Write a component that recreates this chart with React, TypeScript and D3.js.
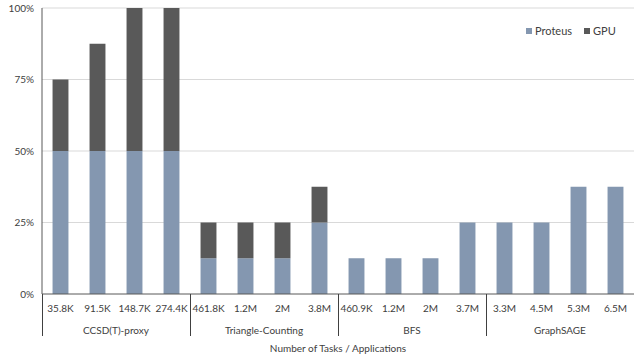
import React from "react";
import * as d3 from "d3";

const taskSizes = [
  "35.8K", "91.5K", "148.7K", "274.4K",
  "461.8K", "1.2M", "2M", "3.8M",
  "460.9K", "1.2M", "2M", "3.7M",
  "3.3M", "4.5M", "5.3M", "6.5M",
];
const applications = ["CCSD(T)-proxy", "Triangle-Counting", "BFS", "GraphSAGE"];
const tasksPerApp = 4;
const proteusShare = [
  0.5, 0.5, 0.5, 0.5,
  0.125, 0.125, 0.125, 0.25,
  0.125, 0.125, 0.125, 0.25,
  0.25, 0.25, 0.375, 0.375,
];
const gpuShare = [
  0.25, 0.375, 0.5, 0.5,
  0.125, 0.125, 0.125, 0.125,
  0, 0, 0, 0,
  0, 0, 0, 0,
];
const yTicks = [0, 0.25, 0.5, 0.75, 1];
const seriesNames = ["Proteus", "GPU"];
const seriesColors = ["#8497B0", "#595959"];

const W = 634;
const H = 358;
const margin = { left: 42, right: 0, top: 8, bottom: 64 };
const FONT = "Lato, 'Open Sans', sans-serif";

export default function App() {
  const ids = taskSizes.map((_, i) => String(i));
  const x = d3
    .scaleBand<string>()
    .domain(ids)
    .range([margin.left, W - margin.right])
    .paddingInner(0.57)
    .paddingOuter(0.285);
  const y = d3.scaleLinear().domain([0, 1]).range([H - margin.bottom, margin.top]);
  const step = x.step();
  const x0 = margin.left;
  const yBase = y(0);

  const rows = taskSizes.map((t, i) => ({ id: String(i), Proteus: proteusShare[i], GPU: gpuShare[i] }));
  const stacked = d3.stack<any>().keys(seriesNames)(rows);

  return (
    <div style={{ position: "absolute", left: 0, top: 0 }}>
      <svg width={W} height={H} style={{ display: "block", fontFamily: FONT }}>
        <rect width={W} height={H} fill="#fff" />
        {yTicks.map((t) => (
          <g key={t}>
            {t > 0 && (
              <line x1={x0} x2={W} y1={y(t)} y2={y(t)} stroke="#d9d9d9" strokeWidth={1} />
            )}
            <text x={34} y={y(t)} dy="0.35em" textAnchor="end" fontSize={10} fill="#404040">
              {d3.format(".0%")(t)}
            </text>
          </g>
        ))}
        {stacked.map((s, si) => (
          <g key={s.key} fill={seriesColors[si]}>
            {s.map((d, i) =>
              d[1] - d[0] > 0 ? (
                <rect
                  key={i}
                  x={x(ids[i])}
                  width={x.bandwidth()}
                  y={y(d[1])}
                  height={y(d[0]) - y(d[1])}
                />
              ) : null
            )}
          </g>
        ))}
        <line x1={x0} x2={x0} y1={margin.top} y2={yBase} stroke="#595959" strokeWidth={1} />
        <line x1={x0} x2={W} y1={yBase} y2={yBase} stroke="#595959" strokeWidth={1} />
        {taskSizes.map((t, i) => (
          <text
            key={i}
            x={(x(ids[i]) as number) + x.bandwidth() / 2}
            y={312}
            textAnchor="middle"
            fontSize={10}
            fill="#404040"
          >
            {t}
          </text>
        ))}
        {applications.map((a, g) => {
          const left = x0 + g * tasksPerApp * step;
          return (
            <g key={a}>
              <line
                x1={Math.round(left) + 0.5}
                x2={Math.round(left) + 0.5}
                y1={yBase}
                y2={336}
                stroke="#404040"
                strokeWidth={1}
              />
              <text
                x={left + (tasksPerApp * step) / 2}
                y={334}
                textAnchor="middle"
                fontSize={10}
                fill="#404040"
              >
                {a}
              </text>
            </g>
          );
        })}
        <text x={(x0 + W) / 2} y={352} textAnchor="middle" fontSize={10} fill="#404040">
          Number of Tasks / Applications
        </text>
        {seriesNames.map((n, i) => {
          const lx = [526, 584][i];
          return (
            <g key={n}>
              <rect x={lx} y={28} width={6} height={6} fill={seriesColors[i]} />
              <text x={lx + 9} y={31} dy="0.35em" fontSize={11} fill="#404040">
                {n}
              </text>
            </g>
          );
        })}
      </svg>
    </div>
  );
}
